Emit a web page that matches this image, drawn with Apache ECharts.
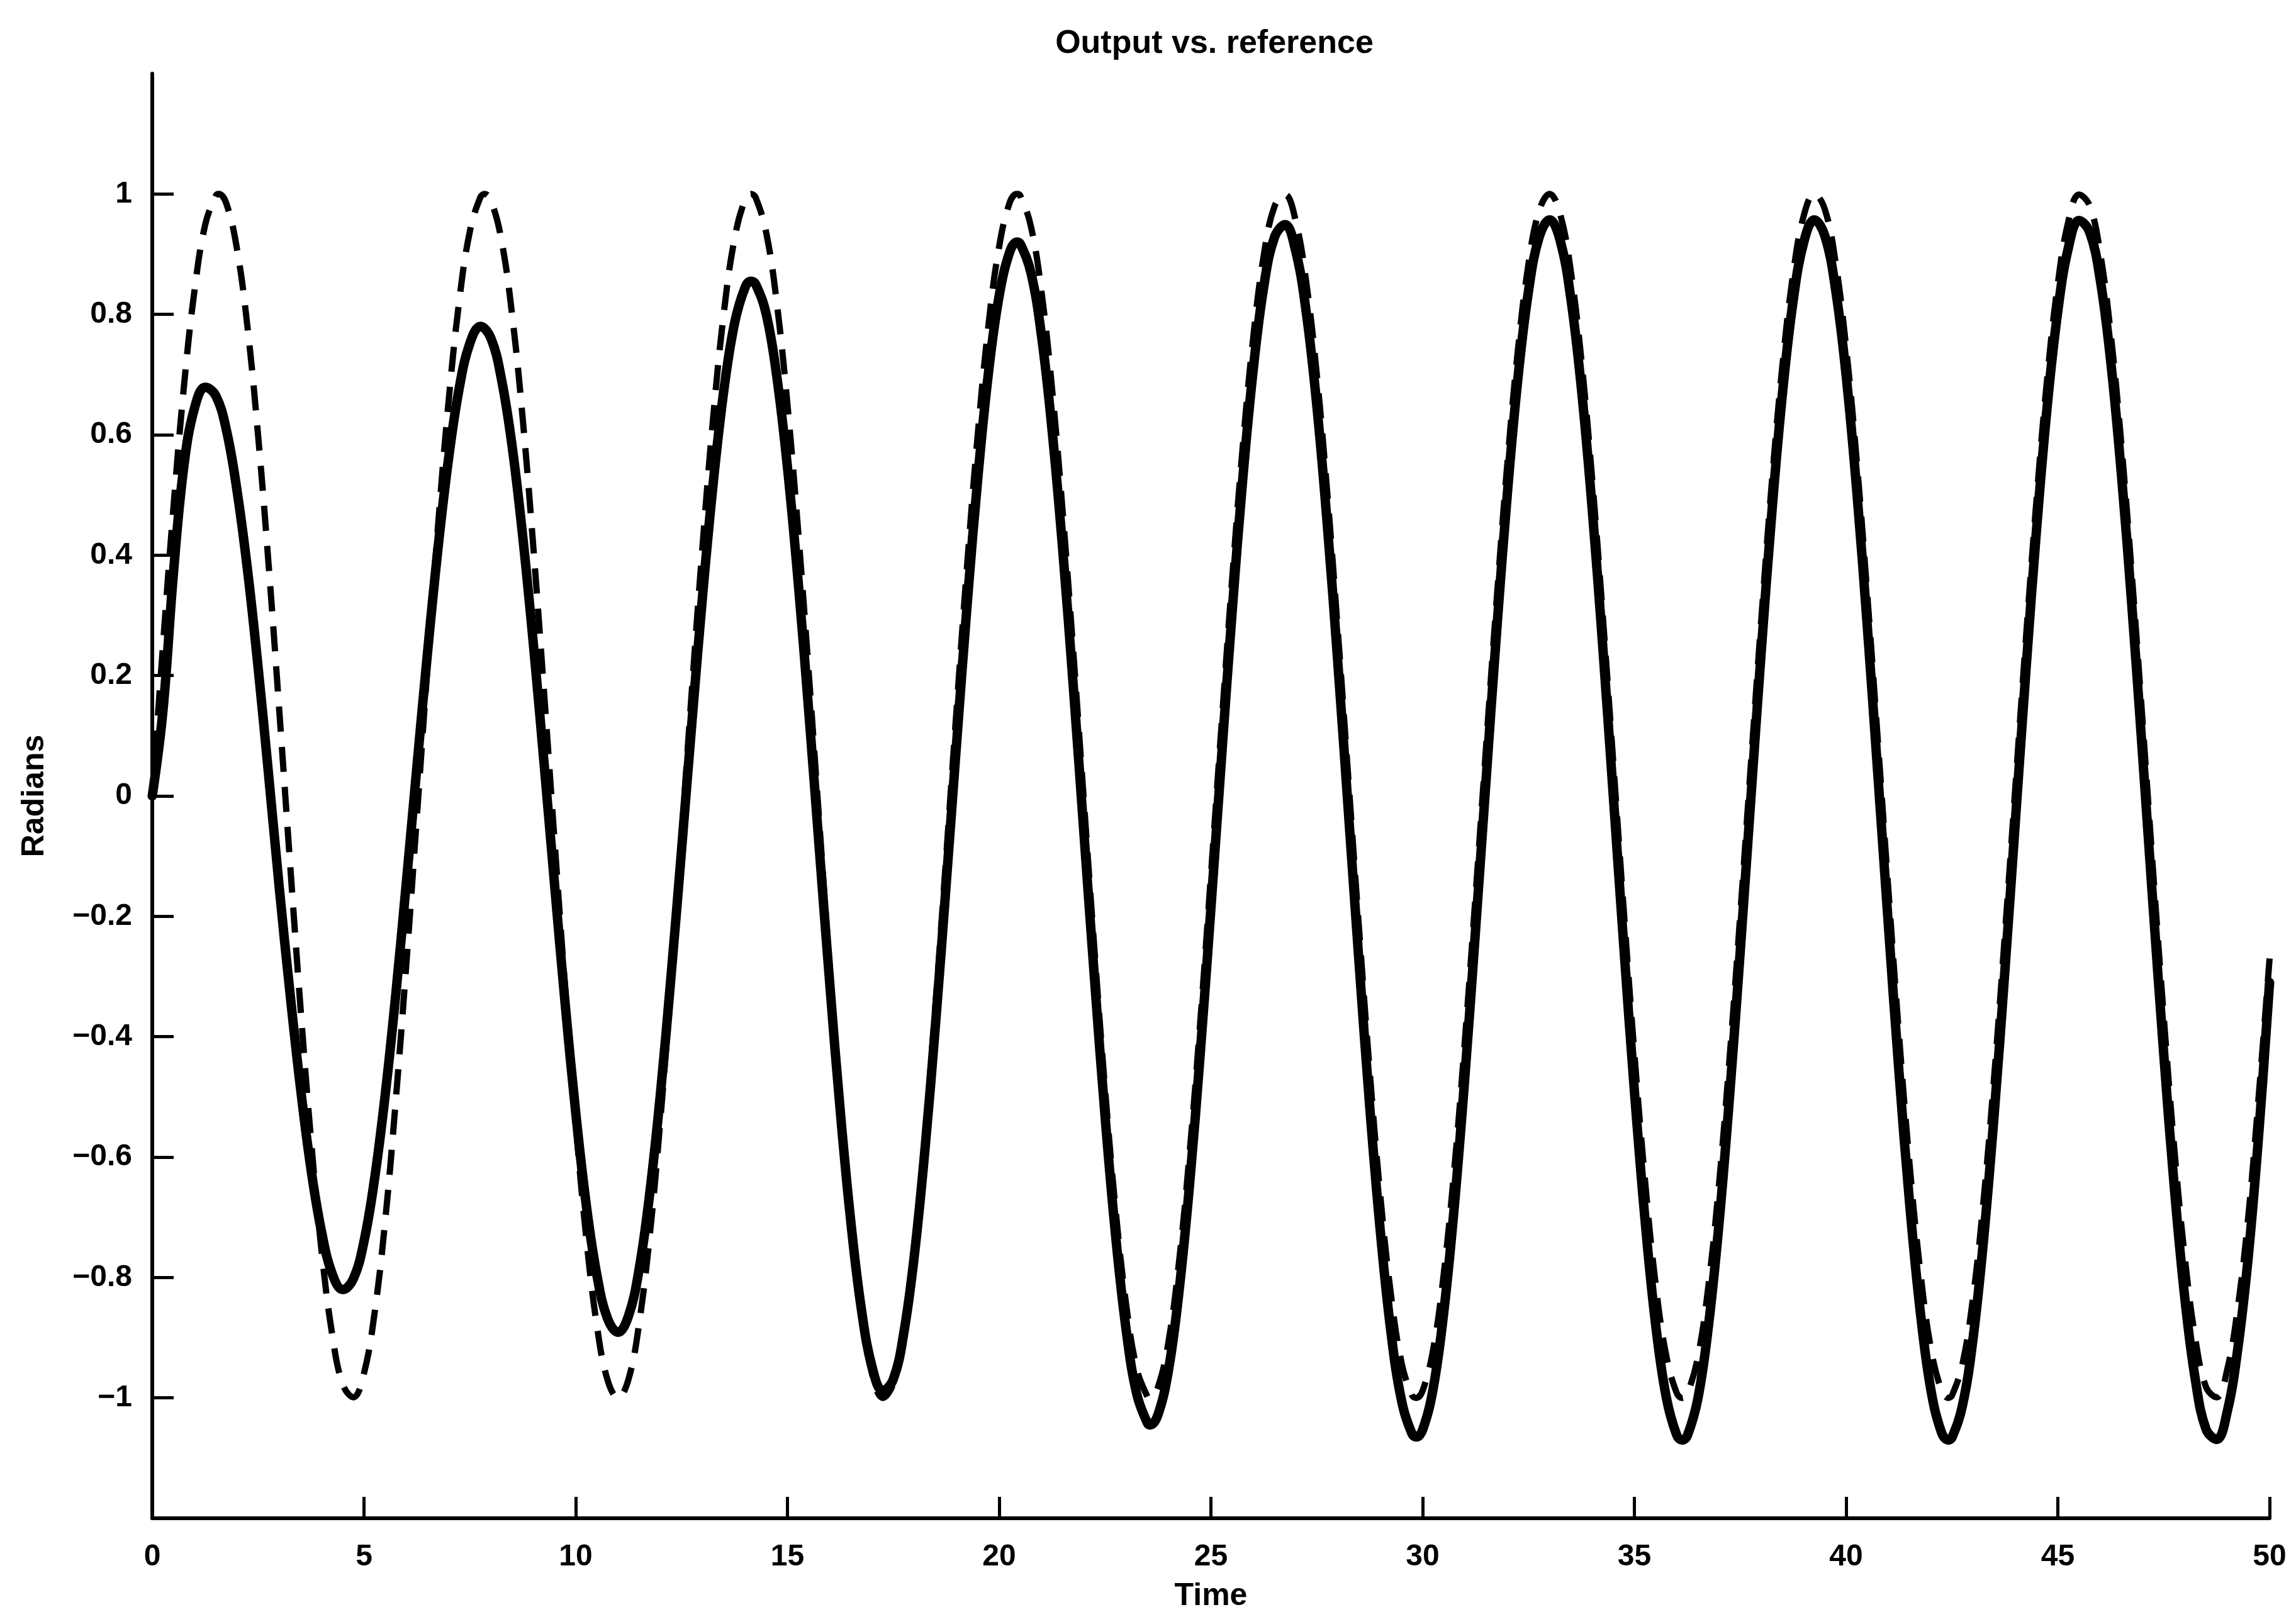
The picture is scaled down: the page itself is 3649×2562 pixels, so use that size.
<!DOCTYPE html>
<html>
<head>
<meta charset="utf-8">
<script src="https://cdn.jsdelivr.net/npm/echarts@6/dist/echarts.min.js"></script>
<style>
  html, body { margin: 0; padding: 0; background: #ffffff; }
  #chart { width: 3649px; height: 2562px; }
</style>
</head>
<body>
<div id="chart"></div>
<script>
// Labels
const chartTitle = 'Output vs. reference';
const xAxisName = 'Time';
const yAxisName = 'Radians';

// Tick positions
const xTicks = [0, 5, 10, 15, 20, 25, 30, 35, 40, 45, 50];
const yTicks = [-1, -0.8, -0.6, -0.4, -0.2, 0, 0.2, 0.4, 0.6, 0.8, 1];

// Sample times shared by both traces
const sampleTime = [
  0, 0.25, 0.5, 0.75, 1, 1.25, 1.5, 1.75, 2, 2.25, 2.5, 2.75, 3, 3.25, 3.5, 3.75, 4, 4.25, 4.5, 4.75,
  5, 5.25, 5.5, 5.75, 6, 6.25, 6.5, 6.75, 7, 7.25, 7.5, 7.75, 8, 8.25, 8.5, 8.75, 9, 9.25, 9.5, 9.75,
  10, 10.25, 10.5, 10.75, 11, 11.25, 11.5, 11.75, 12, 12.25, 12.5, 12.75, 13, 13.25, 13.5, 13.75, 14, 14.25, 14.5, 14.75,
  15, 15.25, 15.5, 15.75, 16, 16.25, 16.5, 16.75, 17, 17.25, 17.5, 17.75, 18, 18.25, 18.5, 18.75, 19, 19.25, 19.5, 19.75,
  20, 20.25, 20.5, 20.75, 21, 21.25, 21.5, 21.75, 22, 22.25, 22.5, 22.75, 23, 23.25, 23.5, 23.75, 24, 24.25, 24.5, 24.75,
  25, 25.25, 25.5, 25.75, 26, 26.25, 26.5, 26.75, 27, 27.25, 27.5, 27.75, 28, 28.25, 28.5, 28.75, 29, 29.25, 29.5, 29.75,
  30, 30.25, 30.5, 30.75, 31, 31.25, 31.5, 31.75, 32, 32.25, 32.5, 32.75, 33, 33.25, 33.5, 33.75, 34, 34.25, 34.5, 34.75,
  35, 35.25, 35.5, 35.75, 36, 36.25, 36.5, 36.75, 37, 37.25, 37.5, 37.75, 38, 38.25, 38.5, 38.75, 39, 39.25, 39.5, 39.75,
  40, 40.25, 40.5, 40.75, 41, 41.25, 41.5, 41.75, 42, 42.25, 42.5, 42.75, 43, 43.25, 43.5, 43.75, 44, 44.25, 44.5, 44.75,
  45, 45.25, 45.5, 45.75, 46, 46.25, 46.5, 46.75, 47, 47.25, 47.5, 47.75, 48, 48.25, 48.5, 48.75, 49, 49.25, 49.5, 49.75,
  50
];

// Reference signal (dashed)
const referenceValues = [
  0, 0.247, 0.479, 0.682, 0.841, 0.949, 0.997, 0.984, 0.909, 0.778, 0.598, 0.382, 0.141, -0.108, -0.351, -0.572, -0.757, -0.895, -0.978, -0.999,
  -0.959, -0.859, -0.706, -0.506, -0.279, -0.033, 0.215, 0.450, 0.657, 0.823, 0.938, 0.995, 0.989, 0.922, 0.798, 0.625, 0.412, 0.174, -0.075, -0.320,
  -0.544, -0.735, -0.880, -0.970, -1.000, -0.968, -0.875, -0.729, -0.537, -0.311, -0.066, 0.183, 0.420, 0.632, 0.804, 0.926, 0.991, 0.994, 0.935, 0.818,
  0.650, 0.442, 0.207, -0.042, -0.288, -0.516, -0.712, -0.864, -0.961, -1.000, -0.976, -0.891, -0.751, -0.564, -0.342, -0.099, 0.150, 0.390, 0.605, 0.784,
  0.913, 0.986, 0.997, 0.946, 0.837, 0.675, 0.471, 0.239, -0.009, -0.256, -0.487, -0.688, -0.846, -0.952, -0.998, -0.982, -0.906, -0.772, -0.591, -0.374,
  -0.132, 0.117, 0.359, 0.579, 0.762, 0.899, 0.979, 0.999, 0.956, 0.854, 0.700, 0.501, 0.271, 0.024, -0.223, -0.458, -0.664, -0.828, -0.941, -0.996,
  -0.988, -0.919, -0.793, -0.618, -0.404, -0.165, 0.084, 0.328, 0.552, 0.741, 0.884, 0.972, 1.000, 0.966, 0.871, 0.723, 0.529, 0.303, 0.057, -0.191,
  -0.428, -0.638, -0.810, -0.929, -0.992, -0.993, -0.932, -0.813, -0.644, -0.434, -0.198, 0.051, 0.296, 0.524, 0.718, 0.868, 0.964, 1.000, 0.974, 0.887,
  0.745, 0.557, 0.334, 0.091, -0.158, -0.398, -0.613, -0.789, -0.917, -0.987, -0.996, -0.943, -0.832, -0.669, -0.463, -0.230, 0.018, 0.265, 0.495, 0.695,
  0.851, 0.955, 0.999, 0.981, 0.902, 0.767, 0.584, 0.365, 0.124, -0.126, -0.366, -0.586, -0.768, -0.903, -0.982, -0.999, -0.953, -0.850, -0.697, -0.493,
  -0.27
];

// Reference turning points lying between sample times
const referenceExtremaTime = [1.57, 7.85, 14.14, 20.42, 23.56, 29.85, 36.13, 42.41];
const referenceExtremaValue = [1, 1, 1, 1, -1, -1, -1, -1];

// System output (solid)
const outputValues = [
  0, 0.14, 0.37, 0.55, 0.645, 0.679, 0.665, 0.608, 0.508, 0.375, 0.213, 0.033, -0.153, -0.326, -0.485, -0.621, -0.725, -0.794, -0.820, -0.802,
  -0.740, -0.636, -0.497, -0.330, -0.144, 0.049, 0.238, 0.413, 0.562, 0.678, 0.752, 0.780, 0.760, 0.691, 0.580, 0.430, 0.252, 0.056, -0.147, -0.345,
  -0.526, -0.680, -0.796, -0.868, -0.891, -0.863, -0.785, -0.659, -0.495, -0.300, -0.089, 0.128, 0.336, 0.522, 0.675, 0.785, 0.845, 0.850, 0.800, 0.696,
  0.546, 0.358, 0.143, -0.086, -0.313, -0.526, -0.710, -0.855, -0.949, -0.988, -0.969, -0.891, -0.761, -0.585, -0.376, -0.145, 0.093, 0.324, 0.532, 0.705,
  0.831, 0.904, 0.917, 0.869, 0.764, 0.607, 0.409, 0.182, -0.061, -0.303, -0.532, -0.731, -0.888, -0.994, -1.042, -1.028, -0.953, -0.821, -0.642, -0.426,
  -0.186, 0.063, 0.305, 0.525, 0.709, 0.847, 0.928, 0.949, 0.906, 0.804, 0.649, 0.449, 0.218, -0.030, -0.279, -0.516, -0.723, -0.890, -1.004, -1.060,
  -1.053, -0.984, -0.857, -0.680, -0.464, -0.222, 0.029, 0.276, 0.502, 0.694, 0.839, 0.928, 0.957, 0.922, 0.826, 0.676, 0.480, 0.251, 0.002, -0.250,
  -0.490, -0.703, -0.877, -0.998, -1.062, -1.063, -1.001, -0.880, -0.709, -0.497, -0.258, -0.005, 0.244, 0.474, 0.671, 0.823, 0.920, 0.957, 0.930, 0.842,
  0.699, 0.508, 0.282, 0.035, -0.217, -0.460, -0.677, -0.856, -0.986, -1.057, -1.066, -1.012, -0.900, -0.734, -0.526, -0.290, -0.039, 0.212, 0.445, 0.648,
  0.806, 0.911, 0.956, 0.937, 0.858, 0.721, 0.535, 0.314, 0.069, -0.184, -0.428, -0.650, -0.835, -0.971, -1.052, -1.069, -1.023, -0.918, -0.763, -0.556,
  -0.31
];

// Output turning points lying between sample times
const outputExtremaTime = [14.14, 20.42, 23.56, 29.85, 36.13, 42.41];
const outputExtremaValue = [0.855, 0.92, -1.045, -1.065, -1.07, -1.07];

// Merge the regular samples with the turning points, ordered by time
function buildTrace(ts, vs, extraTs, extraVs) {
  const pts = ts.map((t, i) => [t, vs[i]]);
  extraTs.forEach((t, i) => pts.push([t, extraVs[i]]));
  return pts.sort((a, b) => a[0] - b[0]);
}

const FONT = '"Liberation Sans", Arial, Helvetica, sans-serif';
const INK = '#000000';

const textStyle = { color: INK, fontFamily: FONT, fontWeight: 'bold' };

const chart = echarts.init(document.getElementById('chart'), null, { renderer: 'canvas' });

chart.setOption({
  animation: false,
  backgroundColor: '#ffffff',
  title: {
    text: chartTitle,
    left: 1930,
    textAlign: 'center',
    top: 44,
    padding: 0,
    textStyle: Object.assign({ fontSize: 52 }, textStyle)
  },
  grid: {
    left: 242,
    right: 42,
    top: 117,
    bottom: 149,
    containLabel: false,
    outerBoundsMode: 'none'
  },
  xAxis: {
    type: 'value',
    min: 0,
    max: 50,
    interval: 5,
    name: xAxisName,
    nameLocation: 'middle',
    nameGap: 99,
    nameTextStyle: Object.assign({ fontSize: 50 }, textStyle),
    axisLine: { onZero: false, lineStyle: { color: INK, width: 6 } },
    axisTick: { inside: true, length: 34, customValues: xTicks, lineStyle: { color: INK, width: 5 } },
    axisLabel: Object.assign({ fontSize: 48, margin: 38, customValues: xTicks }, textStyle),
    splitLine: { show: false }
  },
  yAxis: {
    type: 'value',
    min: -1.2,
    max: 1.2,
    interval: 0.2,
    name: yAxisName,
    nameLocation: 'middle',
    nameGap: 162,
    nameRotate: 90,
    nameTextStyle: Object.assign({ fontSize: 50 }, textStyle),
    axisLine: { onZero: false, lineStyle: { color: INK, width: 6 } },
    axisTick: { inside: true, length: 34, customValues: yTicks, lineStyle: { color: INK, width: 5 } },
    axisLabel: Object.assign({
      fontSize: 48,
      margin: 32,
      customValues: yTicks,
      formatter: v => String(Math.round(v * 10) / 10).replace('-', '\u2212')
    }, textStyle),
    splitLine: { show: false }
  },
  series: [
    {
      name: 'reference',
      type: 'line',
      data: buildTrace(sampleTime, referenceValues, referenceExtremaTime, referenceExtremaValue),
      smooth: 0.4,
      showSymbol: false,
      silent: true,
      z: 2,
      lineStyle: { color: INK, width: 10, type: [40, 24], cap: 'butt' }
    },
    {
      name: 'output',
      type: 'line',
      data: buildTrace(sampleTime, outputValues, outputExtremaTime, outputExtremaValue),
      smooth: 0.4,
      showSymbol: false,
      silent: true,
      z: 3,
      lineStyle: { color: INK, width: 15, cap: 'round', join: 'round' }
    }
  ]
});
</script>
</body>
</html>
